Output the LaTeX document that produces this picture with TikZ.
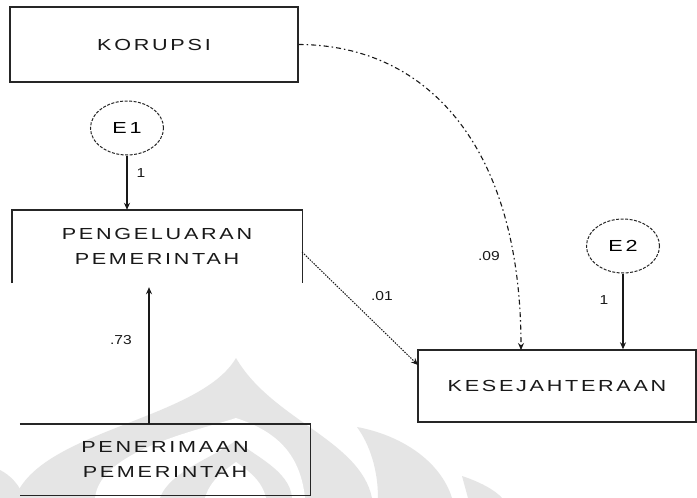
\documentclass[tikz,border=0pt]{standalone}
\usepackage{fontspec}
\setmainfont{Liberation Sans}
\newfontfamily\boxfont{Liberation Sans}[FakeStretch=1.35,LetterSpace=17]
\newfontfamily\lblfont{Liberation Sans}[FakeStretch=1.2]
\usetikzlibrary{arrows.meta,shapes.geometric,calc}
\begin{document}
\begin{tikzpicture}[x=1pt,y=-1pt,
  boxtext/.style={font=\boxfont\fontsize{16}{25}\selectfont, align=center, text=black!90, inner sep=0pt},
  boxfull/.style={boxtext, draw=black!85, line width=1.4pt, minimum width=#1, minimum height=72pt},
  boxopen/.style={boxtext, minimum width=#1, minimum height=72pt},
  errnode/.style={ellipse, draw=black!85, dash pattern=on 3pt off 1.5pt, line width=1pt,
     minimum width=73pt, minimum height=54pt, inner sep=0pt, font=\boxfont\fontsize{16}{18}\selectfont},
  solidarrow/.style={draw=black!90, line width=1.3pt, -{Stealth[length=7pt,width=6pt]}},
  dasharrow/.style={draw=black!90, line width=1.1pt, dash pattern=on 5pt off 3pt on 1.5pt off 3pt, -{Stealth[length=7pt,width=6pt]}},
  dotarrow/.style={draw=black!90, line width=1pt, dash pattern=on 1.5pt off 1.2pt, -{Stealth[length=7pt,width=6pt]}},
  coef/.style={font=\lblfont\fontsize{13}{15}\selectfont, text=black!90, inner sep=0pt},
  wm/.style={fill=black!10, draw=none}
]
\useasboundingbox (0,0) rectangle (697,498);
\fill[white] (0,0) rectangle (697,498);

% watermark (faint logo)
\fill[wm] (15,498) .. controls (40,430) and (200,420) .. (236,358)
   .. controls (272,420) and (360,440) .. (372,498) -- cycle;
\fill[white] (95,498) .. controls (100,450) and (200,430) .. (236,418)
   .. controls (272,430) and (300,450) .. (305,498) -- cycle;
\fill[wm] (160,498) .. controls (170,470) and (220,455) .. (236,440)
   .. controls (252,455) and (290,470) .. (292,498) -- cycle;
\fill[white] (205,498) .. controls (210,480) and (225,470) .. (236,462)
   .. controls (247,470) and (262,480) .. (266,498) -- cycle;
\fill[wm] (357,427) .. controls (400,435) and (440,460) .. (452,498) -- (378,498)
   .. controls (378,470) and (370,445) .. (357,427) -- cycle;
\fill[wm] (462,476) .. controls (480,482) and (495,490) .. (502,498) -- (468,498) -- cycle;
\fill[wm] (0,470) .. controls (10,475) and (20,485) .. (24,498) -- (0,498) -- cycle;

% nodes
\node[boxfull=288pt, minimum height=75pt] (korups) at (154,44.5) {KORUPSI};
\node[errnode] (e1) at (127,128) {E1};
\node[boxopen=290pt, minimum height=73pt] (peng) at (157,246.5) {PENGELUARAN\\PEMERINTAH};
\node[boxopen=290pt, minimum height=71pt] (pene) at (165,459.5) {PENERIMAAN\\PEMERINTAH};
\node[boxfull=278pt] (kes) at (557,386) {KESEJAHTERAAN};
\node[errnode] (e2) at (623,246) {E2};

% open box sides
\draw[black!85, line width=1.4pt] (peng.south west) -- (peng.north west) -- (peng.north east) -- (peng.south east);
\draw[black!85, line width=1.4pt] (pene.north west) -- (pene.north east) -- (pene.south east) -- (pene.south west);

% connectors
\draw[solidarrow] (e1.south) -- (e1.south |- peng.north);
\coordinate (pengin) at ($(peng.south)+(-8,4)$);
\draw[solidarrow] (pene.north -| pengin) -- (pengin);
\draw[solidarrow] (e2.south) -- (e2.south |- kes.north);
\coordinate (kestop) at (521,350);
\draw[dasharrow] (korups.east) .. controls (430,45) and (521,150) .. (kestop);
\coordinate (pengright) at (302,252);
\coordinate (kesleft) at (418,365);
\draw[dotarrow] (pengright) -- (kesleft);

% coefficients
\node[coef] (c1) at (141,173) {1};
\node[coef] (c73) at (121,340) {.73};
\node[coef] (c01) at (382,296) {.01};
\node[coef] (c09) at (489,256) {.09};
\node[coef] (c2) at (604,300) {1};
\end{tikzpicture}
\end{document}
